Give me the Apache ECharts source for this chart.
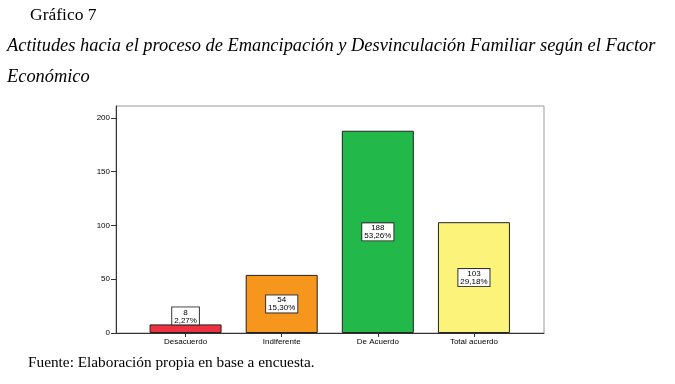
<!DOCTYPE html>
<html>
<head>
<meta charset="utf-8">
<script src="https://cdn.jsdelivr.net/npm/echarts@6/dist/echarts.min.js"></script>
<style>
  html, body { margin: 0; padding: 0; background: #fff; }
  #chart { width: 675px; height: 384px; }
</style>
</head>
<body>
<div id="chart"></div>
<script>
// datos del gráfico
const categorias = ['Desacuerdo', 'Indiferente', 'De Acuerdo', 'Total acuerdo']
const frecuencias = [8, 54, 188, 103]
const porcentajes = ['2,27%', '15,30%', '53,26%', '29,18%']
const colores = ['#ee3140', '#f7961c', '#23b84a', '#fcf47a']
const ticksY = [0, 50, 100, 150, 200]

const chart = echarts.init(document.getElementById('chart'))

const serif = 'Liberation Serif'
const sans = 'Liberation Sans'

const option = {
    animation: false,
    backgroundColor: '#fff',
    graphic: [
        { type: 'text', left: 30, top: 6, style: { text: 'Gráfico 7', font: '17.5px ' + serif, fill: '#000' } },
        { type: 'text', left: 7, top: 37, style: { text: 'Actitudes hacia el proceso de Emancipación y Desvinculación Familiar según el Factor', font: 'italic 18.4px ' + serif, fill: '#000' } },
        { type: 'text', left: 7, top: 68, style: { text: 'Económico', font: 'italic 18.4px ' + serif, fill: '#000' } },
        { type: 'text', left: 28, top: 355, style: { text: 'Fuente: Elaboración propia en base a encuesta.', font: '15.3px ' + serif, fill: '#000' } }
    ],
    grid: [
        // marco
        { left: 116, top: 106, width: 428, height: 227, show: true, borderColor: '#999', borderWidth: 1, containLabel: false },
        // barras
        { left: 137.5, top: 106, width: 384.5, height: 227, containLabel: false }
    ],
    xAxis: [
        {
            gridIndex: 0, type: 'value', min: 0, max: 1,
            axisLine: { show: true, onZero: false, lineStyle: { color: '#333', width: 1 } },
            axisTick: { show: false }, axisLabel: { show: false }, splitLine: { show: false }
        },
        {
            gridIndex: 1, type: 'category', data: categorias,
            axisLine: { show: false },
            axisTick: { show: true, alignWithLabel: true, length: 4, lineStyle: { color: '#333' } },
            axisLabel: { fontFamily: sans, fontSize: 8, color: '#000', margin: 5 }
        }
    ],
    yAxis: [
        {
            gridIndex: 0, type: 'value', min: 0, max: 211,
            axisLine: { show: true, lineStyle: { color: '#333', width: 1 } },
            axisTick: { show: true, length: 5, customValues: ticksY, lineStyle: { color: '#333' } },
            axisLabel: { fontFamily: sans, fontSize: 8, color: '#000', margin: 6, customValues: ticksY },
            splitLine: { show: false }
        },
        {
            gridIndex: 1, type: 'value', min: 0, max: 211, show: false
        }
    ],
    series: [{
        type: 'bar',
        xAxisIndex: 1,
        yAxisIndex: 1,
        barWidth: 72,
        data: frecuencias.map((v, i) => ({
            value: v,
            itemStyle: { color: colores[i] },
            label: { position: i === 0 ? 'top' : 'inside', distance: 0 }
        })),
        itemStyle: { borderColor: '#222', borderWidth: 1 },
        label: {
            show: true,
            formatter: p => frecuencias[p.dataIndex] + '\n' + porcentajes[p.dataIndex],
            fontFamily: sans,
            fontSize: 8,
            lineHeight: 8,
            color: '#000',
            backgroundColor: '#fff',
            borderColor: '#333',
            borderWidth: 1,
            padding: [1, 2, 0, 2],
            align: 'center'
        }
    }]
}

chart.setOption(option)
</script>
</body>
</html>
